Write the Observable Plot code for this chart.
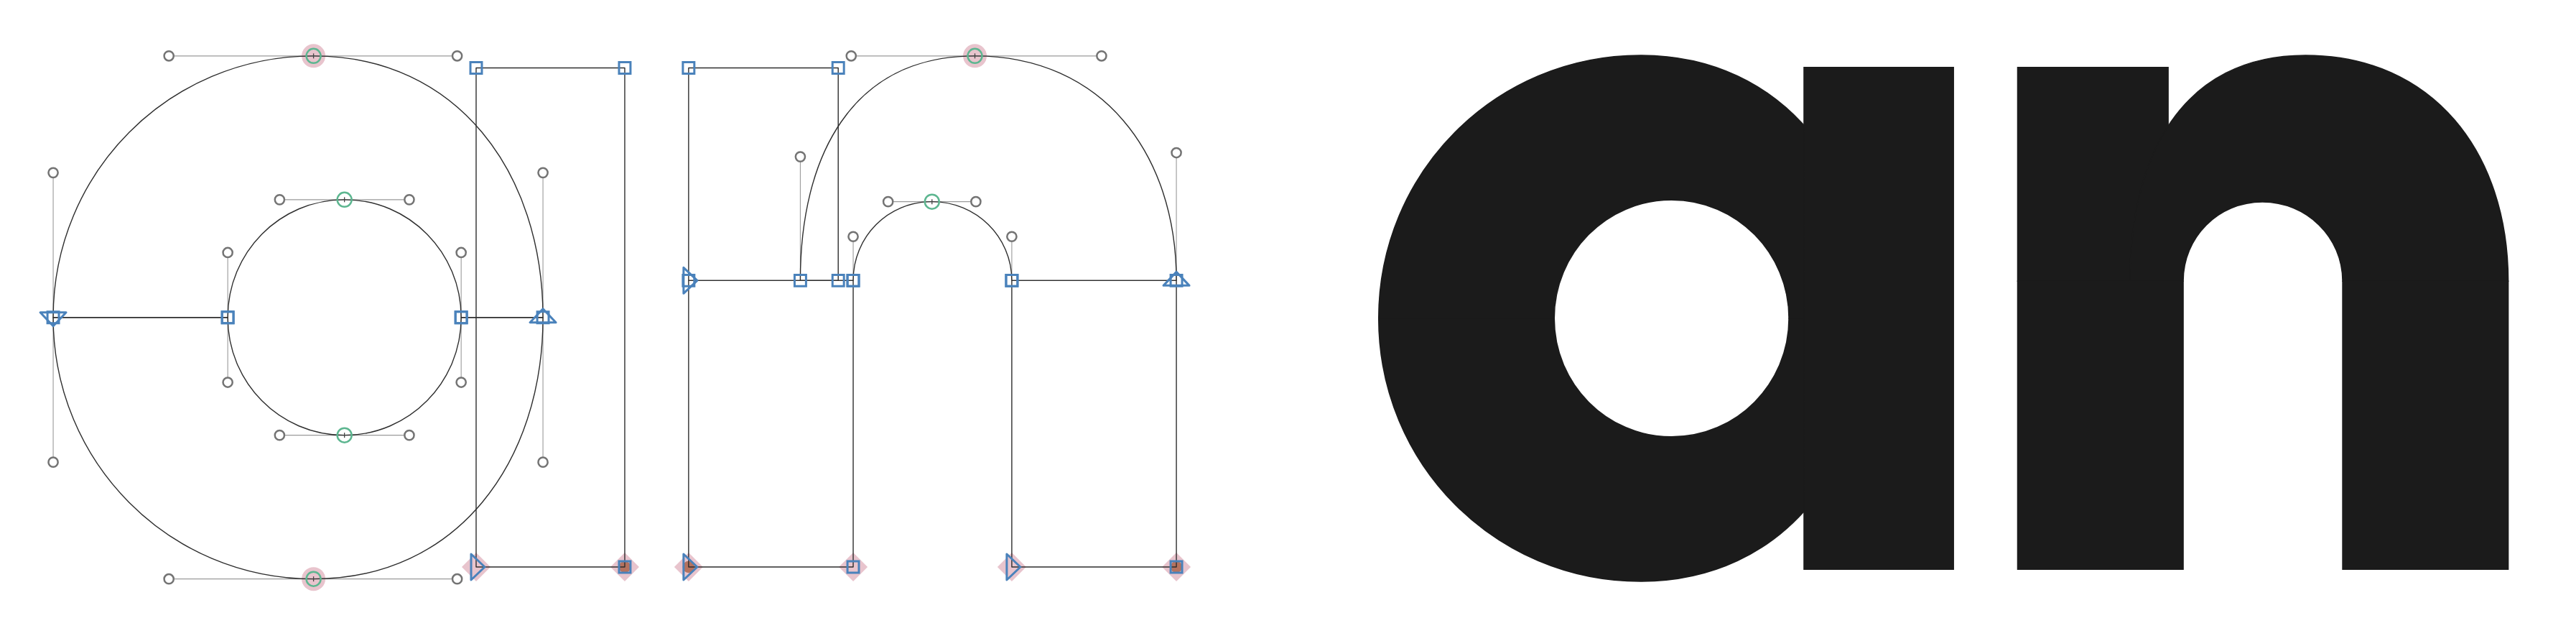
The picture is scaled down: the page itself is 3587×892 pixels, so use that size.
<!DOCTYPE html>
<html><head><meta charset="utf-8">
<script src="https://cdn.jsdelivr.net/npm/d3@7"></script>
<script src="https://cdn.jsdelivr.net/npm/@observablehq/plot@0.6"></script>
<style>
html,body{margin:0;padding:0;background:#fff;}
#wrap{display:flex;width:3587px;height:892px;overflow:hidden;}
#wrap > svg{flex:none;display:block;max-width:none;}
</style></head><body><div id="wrap"></div>
<script>
// Glyph contours in font units (y up, baseline 0). kind: c = corner, s = smooth, o = off-curve. First point = start.
const aBowlLower = [[40,250,"c"],[40,105,"o"],[156,-12,"o"],[301,-12,"s"],[445,-12,"o"],[531,105,"o"],[531,250,"c"],[449,250,"c"],[449,185,"o"],[397,132,"o"],[332,132,"s"],[267,132,"o"],[215,185,"o"],[215,250,"c"]];
const aBowlUpper = [[531,250,"c"],[531,395,"o"],[445,512,"o"],[301,512,"s"],[156,512,"o"],[40,395,"o"],[40,250,"c"],[215,250,"c"],[215,315,"o"],[267,368,"o"],[332,368,"s"],[397,368,"o"],[449,315,"o"],[449,250,"c"]];
const aStem = [[464,0,"c"],[613,0,"c"],[613,500,"c"],[464,500,"c"]];
const nStem = [[677,287,"c"],[827,287,"c"],[827,500,"c"],[677,500,"c"]];
const nArch = [[1166,287,"c"],[1166,415,"o"],[1091,512,"o"],[964,512,"s"],[840,512,"o"],[789,411,"o"],[789,287,"c"],[842,287,"c"],[842,331,"o"],[877,366,"o"],[921,366,"s"],[965,366,"o"],[1001,331,"o"],[1001,287,"c"]];
const nLegLeft = [[677,0,"c"],[842,0,"c"],[842,287,"c"],[677,287,"c"]];
const nLegRight = [[1001,0,"c"],[1166,0,"c"],[1166,287,"c"],[1001,287,"c"]];
const anchors = [[613,0],[677,0],[1166,0]];
const alignmentZones = [[-12,0],[512,524]];

const contours = [["aLower",aBowlLower],["aUpper",aBowlUpper],["aStem",aStem],["nStem",nStem],["nArch",nArch],["nLegL",nLegLeft],["nLegR",nLegRight]];

// Build tables for the library
const rows = [], handles = [], offPts = [], smoothPts = [], cornerPts = [], startPts = [], haloC = [], haloD = [];
for (const [id, pts] of contours) {
  const n = pts.length;
  rows.push({x: pts[0][0], y: pts[0][1], id});
  let prev = pts[0], offs = [];
  for (let i = 1; i <= n; i++) {
    const p = pts[i % n];
    if (p[2] === "o") { offs.push(p); continue; }
    const [c1, c2] = offs.length === 2 ? offs : [prev, p];
    rows.push({x: c1[0], y: c1[1], id}, {x: c2[0], y: c2[1], id}, {x: p[0], y: p[1], id});
    prev = p; offs = [];
  }
  pts.forEach((p, i) => {
    const pr = pts[(i - 1 + n) % n], nx = pts[(i + 1) % n];
    const d = {x: p[0], y: p[1]};
    if (p[2] === "o") {
      offPts.push(d);
      if (pr[2] !== "o") handles.push({x1: pr[0], y1: pr[1], x2: p[0], y2: p[1]});
      if (nx[2] !== "o") handles.push({x1: p[0], y1: p[1], x2: nx[0], y2: nx[1]});
      return;
    }
    const inZone = alignmentZones.some(([a, b]) => p[1] >= a && p[1] <= b);
    if (p[2] === "s") { smoothPts.push(d); if (inZone) haloC.push(d); }
    else { if (inZone) haloD.push(d); }
    if (i === 0) {
      const dx = nx[0] - p[0], dy = nx[1] - p[1];
      d.dir = Math.abs(dx) > Math.abs(dy) ? (dx > 0 ? "right" : "left") : (dy > 0 ? "up" : "down");
      startPts.push(d);
    } else if (p[2] === "c") cornerPts.push(d);
  });
}

// custom cubic bezier curve: M p0, then triplets (c1, c2, p)
function bezierCurve(context) {
  let pts;
  return {
    areaStart() {}, areaEnd() {},
    lineStart() { pts = []; },
    point(x, y) { pts.push([+x, +y]); },
    lineEnd() {
      if (!pts.length) return;
      context.moveTo(pts[0][0], pts[0][1]);
      for (let i = 1; i + 2 < pts.length; i += 3)
        context.bezierCurveTo(pts[i][0], pts[i][1], pts[i+1][0], pts[i+1][1], pts[i+2][0], pts[i+2][1]);
      context.closePath();
    }
  };
}

const sym = (f) => ({draw: f});
const diamondSym = sym(c => { c.moveTo(0,-20); c.lineTo(20,0); c.lineTo(0,20); c.lineTo(-20,0); c.closePath(); });
const tickSym = sym(c => { c.moveTo(0,-3.5); c.lineTo(0,3.5); });
const triSyms = {
  right: sym(c => { c.moveTo(12,0); c.lineTo(-7,-18); c.lineTo(-7,18); c.closePath(); }),
  left: sym(c => { c.moveTo(-12,0); c.lineTo(7,-18); c.lineTo(7,18); c.closePath(); }),
  up: sym(c => { c.moveTo(0,-12); c.lineTo(-18,7); c.lineTo(18,7); c.closePath(); }),
  down: sym(c => { c.moveTo(0,12); c.lineTo(-18,-7); c.lineTo(18,-7); c.closePath(); })
};

const H = 892;
function frame(W, k, x0, y0) {
  return {
    width: W, height: H, margin: 0,
    x: {domain: [-x0 / k, (W - x0) / k], range: [0, W], axis: null},
    y: {domain: [(y0 - H) / k, y0 / k], range: [H, 0], axis: null},
    style: {background: "#fff", maxWidth: "none", display: "block"}
  };
}

const BLUE = "#4a82bb", PINK = "#e8c4cd";
const left = Plot.plot({
  ...frame(1794, 1.389, 18, 788.5),
  marks: [
    Plot.dot(haloC, {x: "x", y: "y", r: 16.5, fill: PINK}),
    Plot.dot(haloD, {x: "x", y: "y", symbol: diamondSym, fill: PINK}),
    Plot.dot(anchors, {x: d => d[0], y: d => d[1], r: 8.3, fill: "#b4725f"}),
    Plot.link(handles, {x1: "x1", y1: "y1", x2: "x2", y2: "y2", stroke: "#9a9a9a", strokeWidth: 1.1}),
    Plot.line(rows, {x: "x", y: "y", z: "id", curve: bezierCurve, stroke: "#2e2e2e", strokeWidth: 1.4}),
    Plot.dot(offPts, {x: "x", y: "y", r: 6.6, stroke: "#747474", strokeWidth: 2.5, fill: "#fff"}),
    Plot.dot(smoothPts, {x: "x", y: "y", r: 10, stroke: "#5db690", strokeWidth: 2.5, fill: "none"}),
    Plot.dot(smoothPts, {x: "x", y: "y", symbol: tickSym, stroke: "#444", strokeWidth: 1.3, fill: "none"}),
    Plot.dot(cornerPts, {x: "x", y: "y", symbol: "square", r: 9, stroke: BLUE, strokeWidth: 3, fill: "none"}),
    ...Object.keys(triSyms).map(dir =>
      Plot.dot(startPts.filter(d => d.dir === dir), {x: "x", y: "y", symbol: triSyms[dir], stroke: BLUE, strokeWidth: 3, strokeLinejoin: "round", fill: "none"}))
  ]
});

const right = Plot.plot({
  ...frame(1793, 1.3968, 69.4, 791.7),
  marks: [
    Plot.line(rows, {x: "x", y: "y", z: "id", curve: bezierCurve, fill: "#1b1b1b", stroke: "#1b1b1b", strokeWidth: 1.6, strokeLinejoin: "miter", strokeMiterlimit: 4})
  ]
});

document.getElementById("wrap").append(left, right);
</script>
</body></html>
